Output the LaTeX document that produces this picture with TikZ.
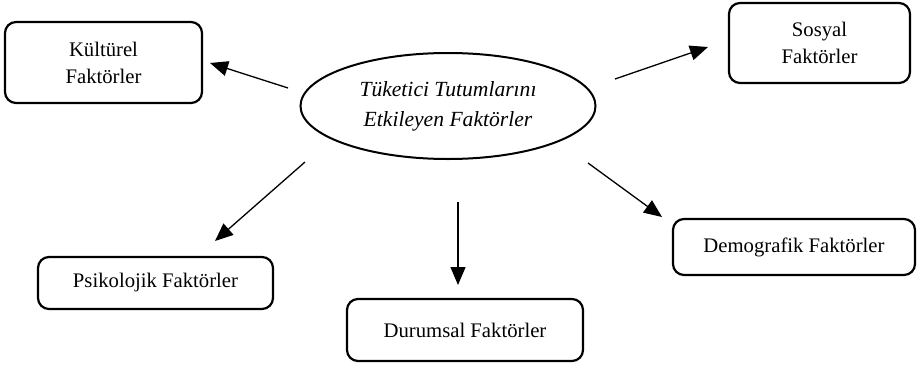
\documentclass[tikz,border=0pt]{standalone}
\usepackage{fontspec}
\setmainfont{Liberation Serif}
\usetikzlibrary{shapes.geometric,arrows.meta}
\begin{document}
\begin{tikzpicture}[x=1pt,y=-1pt,
  fbox/.style={draw, line width=2.2pt, rounded corners=11pt, align=center, inner sep=0pt,
    font=\fontsize{20.7}{27}\selectfont},
  oval/.style={draw, ellipse, line width=2pt, inner sep=0pt, align=center,
    font=\fontsize{21.6}{30}\selectfont\itshape},
  arr/.style={line width=1.3pt, -{Triangle[length=18pt,width=15pt]}}]
\useasboundingbox (0,0) rectangle (920,364);
\node[oval, minimum width=295pt, minimum height=106pt] (e) at (448,106) {Tüketici Tutumlarını\\Etkileyen Faktörler};
\node[fbox, minimum width=197pt, minimum height=81pt] (k) at (103.5,62.5) {Kültürel\\Faktörler};
\node[fbox, minimum width=181pt, minimum height=80pt] (s) at (819.5,43) {Sosyal\\Faktörler};
\node[fbox, minimum width=235pt, minimum height=52pt] (p) at (155.5,283) {Psikolojik Faktörler};
\node[fbox, minimum width=236pt, minimum height=62pt] (d) at (465,330) {Durumsal Faktörler};
\node[fbox, minimum width=242pt, minimum height=56pt] (g) at (794,247) {Demografik Faktörler};
\coordinate (ks) at (288,88); \coordinate (kt) at (210,63);
\coordinate (ss) at (615,79); \coordinate (st) at (708,47);
\coordinate (ps) at (305,162); \coordinate (pt) at (215,241);
\coordinate (ds) at (458,202); \coordinate (dt) at (458,285);
\coordinate (gs) at (588,163); \coordinate (gt) at (662,217);
\draw[arr] (ks) -- (kt);
\draw[arr] (ss) -- (st);
\draw[arr] (ps) -- (pt);
\draw[arr] (ds) -- (dt);
\draw[arr] (gs) -- (gt);
\end{tikzpicture}
\end{document}
